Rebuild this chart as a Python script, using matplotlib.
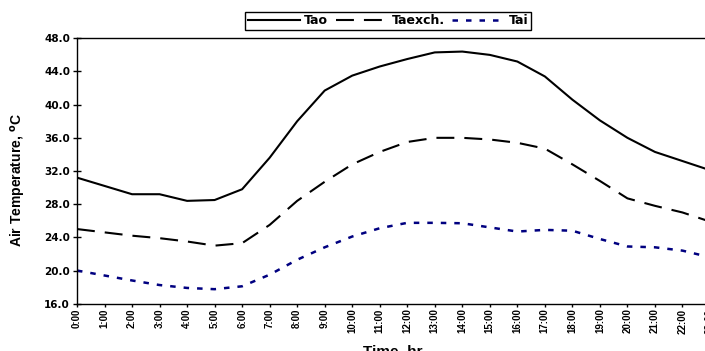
import matplotlib
matplotlib.use("Agg")
import matplotlib.pyplot as plt
import numpy as np

# Hourly air temperatures (°C)
hours = list(range(24))
hour_labels = [f"{h}:00" for h in hours]
tao = [31.2, 30.2, 29.2, 29.2, 28.4, 28.5, 29.8, 33.6, 38.0, 41.7, 43.5, 44.6,
       45.5, 46.3, 46.4, 46.0, 45.2, 43.4, 40.6, 38.1, 36.0, 34.3, 33.2, 32.1]
taexch = [25.0, 24.6, 24.2, 23.9, 23.5, 23.0, 23.3, 25.5, 28.4, 30.7, 32.8, 34.3,
          35.5, 36.0, 36.0, 35.8, 35.4, 34.7, 32.8, 30.8, 28.7, 27.8, 27.0, 25.9]
tai = [20.0, 19.4, 18.8, 18.25, 17.9, 17.75, 18.1, 19.5, 21.3, 22.8, 24.1, 25.1,
       25.75, 25.75, 25.7, 25.2, 24.7, 24.9, 24.8, 23.8, 22.9, 22.8, 22.4, 21.6]
y_ticks = [16, 20, 24, 28, 32, 36, 40, 44, 48]

W, H = 705, 351
fig = plt.figure(figsize=(W / 100, H / 100), dpi=100)
ax = fig.add_axes([77 / W, (H - 303.7) / H, (710 - 77) / W, (303.7 - 38.3) / H])

ax.plot(hours, tao, color="black", lw=1.5, label="Tao")
ax.plot(hours, taexch, color="black", lw=1.5, dashes=(8.6, 4.8), label="Taexch.")
ax.plot(hours, tai, color="#000080", lw=1.8, dashes=(2.2, 3.2), label="Tai")

ax.set_xlim(0, 23)
ax.set_ylim(16, 48)
ax.set_yticks(y_ticks)
ax.set_yticklabels([f"{v:.1f}" for v in y_ticks],
                   fontdict=dict(family="DejaVu Sans", weight="bold", size=7.5))
ax.set_xticks(hours)
ax.set_xticklabels(hour_labels, rotation=90,
                   fontdict=dict(family="Liberation Sans", weight="bold", size=7))
ax.tick_params(axis="y", direction="inout", length=6, width=1, pad=2)
ax.tick_params(axis="x", direction="out", length=2.5, width=1, pad=1)
for s in ax.spines.values():
    s.set_linewidth(1.0)

fig.text(19 / W, 1 - 180 / H, r"Air Temperature, $^{\mathbf{o}}$C", rotation=90,
         ha="center", va="center", family="Liberation Sans", weight="bold", fontsize=10)
fig.text(393 / W, 1 - 345 / H, "Time, hr", ha="center", va="top",
         family="Liberation Sans", weight="bold", fontsize=11)

leg = fig.legend(loc="center", bbox_to_anchor=(388 / W, 1 - 21 / H), ncol=3,
                 frameon=True, fancybox=False, edgecolor="black", framealpha=1,
                 handlelength=4.2, handletextpad=0.3, columnspacing=0.6,
                 borderpad=0.2, borderaxespad=0,
                 prop=dict(family="DejaVu Sans", weight="bold", size=9))
leg.get_frame().set_linewidth(1.0)

fig.savefig("out.png", dpi=100)
